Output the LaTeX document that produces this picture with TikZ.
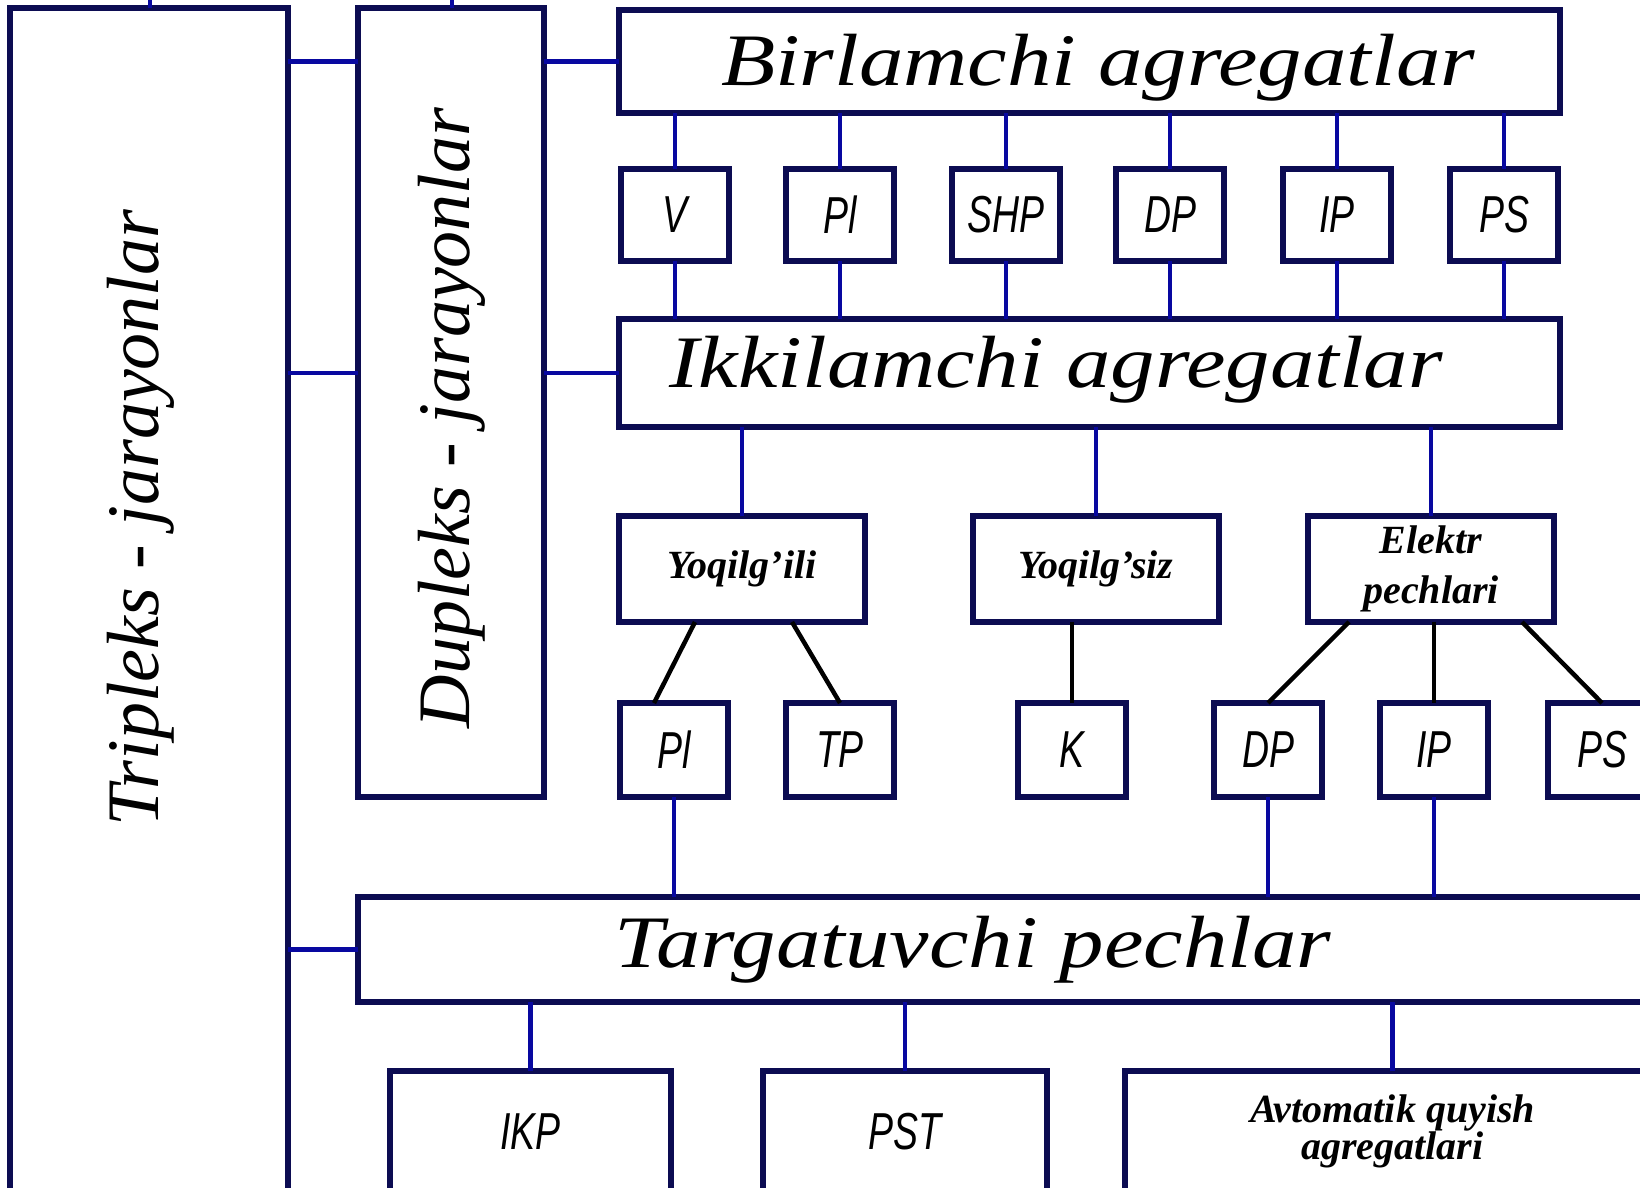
\documentclass[tikz,border=0pt]{standalone}
\usepackage{fontspec}
\setmainfont{Liberation Serif}
\newfontfamily\widefont[FakeStretch=1.2]{Liberation Serif}
\newfontfamily\narrowfont[FakeStretch=0.72]{Liberation Sans}
\usetikzlibrary{positioning}
\definecolor{boxcol}{HTML}{0C0C52}
\definecolor{linkcol}{HTML}{0808A0}
\tikzset{
  box/.style={draw=boxcol, line width=5.5pt, fill=white, inner sep=0pt, outer sep=0pt},
  link/.style={draw=linkcol, line width=4.5pt},
  darklink/.style={draw=black, line width=4.5pt},
  bigtext/.style={font=\itshape\fontsize{74}{80}\selectfont},
  widetext/.style={font=\widefont\itshape\fontsize{74}{80}\selectfont},
  small/.style={box, minimum width=108pt, minimum height=92pt,
    font=\narrowfont\itshape\fontsize{52}{56}\selectfont},
  mid/.style={box, minimum width=246pt, minimum height=106pt, align=center,
    font=\bfseries\itshape\fontsize{40}{50}\selectfont},
}
\begin{document}
\begin{tikzpicture}[x=1pt,y=-1pt]
  \useasboundingbox (0,0) rectangle (1640,1187);
  \clip (0,0) rectangle (1640,1187);
  \fill[white] (0,0) rectangle (1640,1187);

  % left columns
  \node[box, minimum width=278pt, minimum height=1252pt] (trip) at (149,634) {};
  \node[box, minimum width=186pt, minimum height=789pt] (dup) at (451,402.5) {};
  \node[bigtext, rotate=90] (tripT) at (141,518) {Tripleks - jarayonlar};
  \node[bigtext, rotate=90] (dupT) at (452,418) {Dupleks - jarayonlar};
  \coordinate (tripUp) at (150,-20);
  \coordinate (dupUp) at (452,-20);

  % birlamchi
  \node[box, minimum width=941pt, minimum height=103pt] (bir) at (1089.5,61.5) {};
  \node[widetext] (birT) at (1098,68) {Birlamchi agregatlar};
  \foreach \n/\x/\t in {v/675/V, pl/840/Pl, shp/1006/SHP, dp/1170/DP, ip/1337/IP, ps/1504/PS}
    \node[small] (\n) at (\x,215) {\t};

  % ikkilamchi
  \node[box, minimum width=941pt, minimum height=108pt] (ikk) at (1089.5,373) {};
  \node[widetext] (ikkT) at (1056,370) {Ikkilamchi agregatlar};

  \node[mid] (yoq1) at (742,569) {Yoqilg'ili};
  \node[mid] (yoq2) at (1096,569) {Yoqilg'siz};
  \node[mid] (el) at (1431,569) {Elektr\\pechlari};

  \foreach \n/\x/\t in {pl2/674/Pl, tp/840/TP, k/1072/K, dp2/1268/DP, ip2/1434/IP, ps2/1602/PS}
    \node[small, minimum height=94pt] (\n) at (\x,750) {\t};

  % targatuvchi
  \node[box, minimum width=1442pt, minimum height=105pt] (targ) at (1079,949.5) {};
  \node[widetext] (targT) at (973,950) {Targatuvchi pechlar};

  \node[small, minimum width=281pt, minimum height=121pt] (ikp) at (530.5,1131.5) {IKP};
  \node[small, minimum width=284pt, minimum height=121pt] (pst) at (905,1131.5) {PST};
  \node[mid, minimum width=535pt, minimum height=121pt, font=\bfseries\itshape\fontsize{40}{36}\selectfont] (avto) at (1392.5,1131.5) {Avtomatik quyish\\agregatlari};

  % connectors
  \draw[link] (tripUp |- trip.north) -- (tripUp);
  \draw[link] (dupUp |- dup.north) -- (dupUp);
  \draw[link] (trip.east |- bir.west) -- (dup.west |- bir.west);
  \draw[link] (dup.east |- bir.west) -- (bir.west);
  \draw[link] (trip.east |- ikk.west) -- (dup.west |- ikk.west);
  \draw[link] (dup.east |- ikk.west) -- (ikk.west);
  \draw[link] (trip.east |- targ.west) -- (targ.west);

  \foreach \n in {v,pl,shp,dp,ip,ps} {
    \draw[link] (bir.south -| \n.north) -- (\n.north);
    \draw[link] (\n.south) -- (ikk.north -| \n.south);
  }
  \foreach \n in {yoq1,yoq2,el}
    \draw[link] (ikk.south -| \n.north) -- (\n.north);

  \draw[darklink] ([xshift=-47pt]yoq1.south) -- ([xshift=-20pt]pl2.north);
  \draw[darklink] ([xshift=50pt]yoq1.south) -- (tp.north);
  \draw[darklink] (yoq2.south -| k.north) -- (k.north);
  \draw[darklink] ([xshift=-82pt]el.south) -- (dp2.north);
  \draw[darklink] (el.south -| ip2.north) -- (ip2.north);
  \draw[darklink] ([xshift=91pt]el.south) -- (ps2.north);

  \foreach \n in {pl2,dp2,ip2}
    \draw[link] (\n.south) -- (targ.north -| \n.south);
  \foreach \n in {ikp,pst,avto}
    \draw[link] (targ.south -| \n.north) -- (\n.north);
\end{tikzpicture}
\end{document}
